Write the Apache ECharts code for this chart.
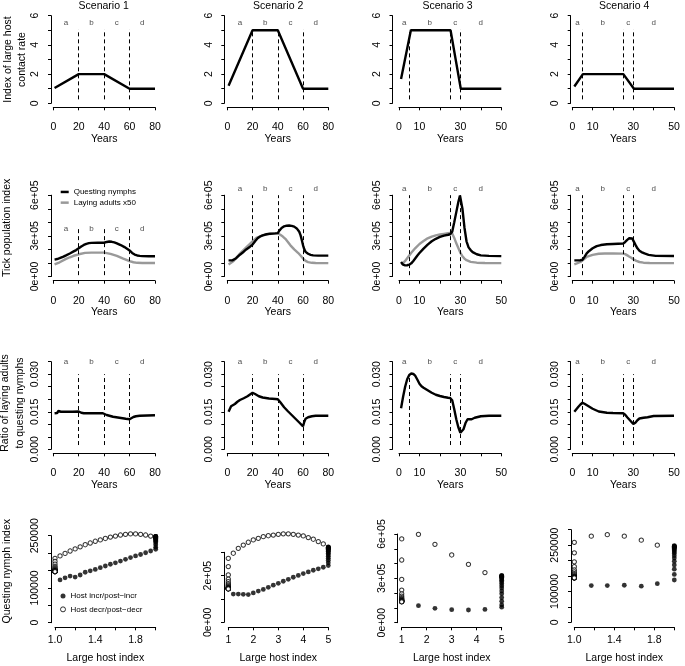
<!DOCTYPE html>
<html><head><meta charset="utf-8">
<script src="https://cdn.jsdelivr.net/npm/echarts@6/dist/echarts.min.js"></script>
<style>html,body{margin:0;padding:0;background:#fff}#c{width:685px;height:666px}</style>
</head><body><div id="c"></div>
<script>
// ================= DATA =================
const scenarioTitles = ['Scenario 1', 'Scenario 2', 'Scenario 3', 'Scenario 4'];
const phaseLetters = ['a', 'b', 'c', 'd'];
const phaseMidYears = [[10, 30, 50, 70], [10, 30, 50, 70], [2.5, 15, 27.5, 40], [2.5, 15, 27.5, 40]];
const phaseBreakYears = [[20, 40, 60], [20, 40, 60], [5, 25, 30], [5, 25, 30]];

// Row 1: index of large host contact rate
const hostYears1 = [1, 20, 40, 60, 80];      const hostRate1 = [1.05, 2, 2, 1, 1];
const hostYears2 = [1, 20, 40, 60, 80];      const hostRate2 = [1.2, 5, 5, 1, 1];
const hostYears3 = [1, 5.8, 25.2, 30.2, 50]; const hostRate3 = [1.67, 5, 5, 1, 1];
const hostYears4 = [1, 5.2, 25.1, 30.3, 50]; const hostRate4 = [1.15, 2, 2, 1, 1];

// Row 2: tick population index (questing nymphs, laying adults x50)
const nymphYears1 = [1,3,5,8,10,13,16,18,20,22,24,26,28,30,35,40,42,44,46,48,50,53,56,58,60,62,64,66,68,70,75,80];
const nymph1 = [1.25e5,1.29e5,1.35e5,1.47e5,1.56e5,1.70e5,1.85e5,1.95e5,2.08e5,2.22e5,2.33e5,2.41e5,2.46e5,2.48e5,2.49e5,2.49e5,2.55e5,2.58e5,2.56e5,2.52e5,2.45e5,2.32e5,2.17e5,2.05e5,1.92e5,1.74e5,1.62e5,1.55e5,1.52e5,1.50e5,1.49e5,1.49e5];
const adultYears1 = [1,5,10,13,16,20,25,30,40,45,50,55,60,63,66,70,80];
const adult1 = [0.90e5,1.05e5,1.30e5,1.42e5,1.53e5,1.64e5,1.74e5,1.76e5,1.76e5,1.67e5,1.52e5,1.32e5,1.13e5,1.05e5,1.01e5,1.00e5,1.00e5];

const nymphYears2 = [1,4,7,10,13,15,18,20,22,24,26,28,31,34,38,40,41,43,45,47,49,51,53,55,57,58,59,60,61,62,64,66,68,72,80];
const nymph2 = [1.19e5,1.19e5,1.35e5,1.61e5,1.83e5,2.00e5,2.20e5,2.35e5,2.60e5,2.82e5,2.95e5,3.04e5,3.12e5,3.16e5,3.18e5,3.20e5,3.35e5,3.58e5,3.70e5,3.75e5,3.76e5,3.74e5,3.68e5,3.55e5,3.30e5,3.05e5,2.70e5,2.30e5,2.00e5,1.82e5,1.68e5,1.60e5,1.56e5,1.54e5,1.54e5];
const adultYears2 = [1,5,10,15,20,23,28,33,38,40,42,44,46,48,50,53,56,58,60,62,64,67,70,80];
const adult2 = [0.89e5,1.14e5,1.69e5,2.15e5,2.60e5,2.85e5,3.04e5,3.14e5,3.18e5,3.18e5,3.08e5,2.95e5,2.78e5,2.55e5,2.30e5,2.00e5,1.75e5,1.55e5,1.32e5,1.15e5,1.06e5,1.01e5,1.00e5,0.99e5];

const nymphYears3 = [1,2,3,4,5,6,7,8,9,10,12,14,16,18,20,22,24,25,26,27,28,29,29.8,30.5,31,32,33,34,35,36,38,40,44,50];
const nymph3 = [1.07e5,0.87e5,0.82e5,0.83e5,0.87e5,0.97e5,1.15e5,1.35e5,1.55e5,1.73e5,2.06e5,2.35e5,2.60e5,2.78e5,2.92e5,3.02e5,3.08e5,3.12e5,3.30e5,4.00e5,4.75e5,5.50e5,5.98e5,5.85e5,5.00e5,3.60e5,2.60e5,2.15e5,1.95e5,1.80e5,1.64e5,1.56e5,1.52e5,1.50e5];
const adultYears3 = [1,2,3,4,5,6,8,10,12,14,16,18,20,22,24,25,26,27,28,29,30,31,32,33,35,38,42,50];
const adult3 = [0.94e5,0.99e5,1.15e5,1.35e5,1.55e5,1.75e5,2.10e5,2.40e5,2.62e5,2.82e5,2.95e5,3.04e5,3.10e5,3.15e5,3.20e5,3.22e5,3.18e5,2.85e5,2.45e5,2.10e5,1.75e5,1.50e5,1.32e5,1.20e5,1.08e5,1.02e5,1.00e5,0.99e5];

const nymphYears4 = [1,3,4,5,6,7,8,10,12,14,17,20,25,26,27,28,28.7,29.5,30,31,32,33,34,35.5,37.5,41,50];
const nymph4 = [1.19e5,1.19e5,1.20e5,1.24e5,1.45e5,1.69e5,1.85e5,2.08e5,2.24e5,2.32e5,2.38e5,2.40e5,2.43e5,2.55e5,2.70e5,2.82e5,2.86e5,2.80e5,2.65e5,2.35e5,2.08e5,1.90e5,1.80e5,1.70e5,1.60e5,1.52e5,1.51e5];
const adultYears4 = [1,4,7,10,13,16,20,25,26,27.5,29,30,31.5,33,35,38,50];
const adult4 = [0.89e5,1.07e5,1.44e5,1.60e5,1.68e5,1.70e5,1.71e5,1.69e5,1.65e5,1.52e5,1.38e5,1.27e5,1.15e5,1.07e5,1.02e5,1.00e5,0.99e5];

// Row 3: ratio of laying adults to questing nymphs
const ratioYears1 = [1,2,3,4,5,6,10,15,20,22,24,30,39,42,47,52,57,60,61,63,65,68,80];
const ratio1 = [0.0144,0.0140,0.0145,0.0153,0.0149,0.0150,0.0150,0.0150,0.0151,0.0146,0.0144,0.0144,0.0144,0.0137,0.0130,0.0126,0.0122,0.0120,0.0122,0.0129,0.0132,0.0134,0.0136];
const ratioYears2 = [1,2,3,4,6,8,10,13,16,18,20,22,25,28,33,38,40,42,45,48,51,54,57,60,61,62,64,67,70,80];
const ratio2 = [0.0150,0.0157,0.0172,0.0178,0.0181,0.0190,0.0197,0.0204,0.0212,0.0219,0.0226,0.0221,0.0212,0.0207,0.0203,0.0201,0.0200,0.0188,0.0168,0.0152,0.0137,0.0122,0.0107,0.0092,0.0110,0.0122,0.0128,0.0132,0.0134,0.0134];
const ratioYears3 = [1,2,3,4,5,6,7,8,9,10,11,12,14,16,18,20,22,24,25,26,27,28,29,30,30.5,31.5,32.5,33.5,35.5,37,40,44,50];
const ratio3 = [0.0164,0.0210,0.0250,0.0280,0.0297,0.0303,0.0301,0.0293,0.0278,0.0262,0.0252,0.0246,0.0236,0.0226,0.0218,0.0213,0.0209,0.0206,0.0205,0.0196,0.0160,0.0120,0.0088,0.0066,0.0063,0.0080,0.0105,0.0120,0.0120,0.0126,0.0132,0.0134,0.0134];
const ratioYears4 = [1,2,3,4,5,6,8,10,13,17,20,25,26,27,28,29,30,31,32,33,35,37,40,50];
const ratio4 = [0.0150,0.0160,0.0170,0.0179,0.0186,0.0182,0.0172,0.0162,0.0151,0.0146,0.0145,0.0144,0.0138,0.0128,0.0119,0.0110,0.0101,0.0106,0.0116,0.0123,0.0126,0.0128,0.0133,0.0134];

// Row 4: questing nymph index vs large host index
const incrHost1 = [1.05,1.10,1.15,1.20,1.25,1.30,1.35,1.40,1.45,1.50,1.55,1.60,1.65,1.70,1.75,1.80,1.85,1.90,1.95,2.00,2,2,2,2,2,2,2,2,2,2,2,2,2,2,2,2,2,2,2,2];
const incrNymph1 = [1.23e5,1.29e5,1.34e5,1.31e5,1.37e5,1.45e5,1.49e5,1.53e5,1.58e5,1.63e5,1.68e5,1.72e5,1.77e5,1.82e5,1.87e5,1.92e5,1.96e5,2.01e5,2.06e5,2.11e5,2.17e5,2.24e5,2.30e5,2.34e5,2.37e5,2.40e5,2.42e5,2.43e5,2.44e5,2.45e5,2.45e5,2.46e5,2.46e5,2.46e5,2.47e5,2.47e5,2.47e5,2.47e5,2.47e5,2.47e5];
const decrHost1 = [1.95,1.90,1.85,1.80,1.75,1.70,1.65,1.60,1.55,1.50,1.45,1.40,1.35,1.30,1.25,1.20,1.15,1.10,1.05,1.00,1,1,1,1,1,1,1,1,1,1,1,1,1,1,1,1,1,1,1,1];
const decrNymph1 = [2.49e5,2.52e5,2.54e5,2.55e5,2.55e5,2.54e5,2.52e5,2.49e5,2.46e5,2.42e5,2.38e5,2.34e5,2.29e5,2.24e5,2.18e5,2.12e5,2.06e5,1.99e5,1.92e5,1.85e5,1.76e5,1.68e5,1.62e5,1.58e5,1.55e5,1.53e5,1.51e5,1.50e5,1.49e5,1.49e5,1.48e5,1.48e5,1.48e5,1.48e5,1.47e5,1.47e5,1.47e5,1.47e5,1.47e5,1.47e5];

const incrHost2 = [1.2,1.4,1.6,1.8,2.0,2.2,2.4,2.6,2.8,3.0,3.2,3.4,3.6,3.8,4.0,4.2,4.4,4.6,4.8,5.0,5,5,5,5,5,5,5,5,5,5,5,5,5,5,5,5,5,5,5,5];
const incrNymph2 = [1.21e5,1.21e5,1.20e5,1.19e5,1.26e5,1.34e5,1.41e5,1.50e5,1.59e5,1.67e5,1.76e5,1.84e5,1.93e5,2.01e5,2.09e5,2.16e5,2.23e5,2.29e5,2.36e5,2.43e5,2.55e5,2.66e5,2.75e5,2.83e5,2.90e5,2.96e5,3.01e5,3.05e5,3.08e5,3.11e5,3.13e5,3.15e5,3.16e5,3.17e5,3.18e5,3.19e5,3.20e5,3.21e5,3.22e5,3.23e5];
const decrHost2 = [4.8,4.6,4.4,4.2,4.0,3.8,3.6,3.4,3.2,3.0,2.8,2.6,2.4,2.2,2.0,1.8,1.6,1.4,1.2,1.0,1,1,1,1,1,1,1,1,1,1,1,1,1,1,1,1,1,1,1,1];
const decrNymph2 = [3.36e5,3.46e5,3.56e5,3.63e5,3.70e5,3.74e5,3.77e5,3.79e5,3.79e5,3.77e5,3.74e5,3.71e5,3.67e5,3.60e5,3.53e5,3.43e5,3.31e5,3.17e5,2.96e5,2.74e5,2.39e5,2.03e5,1.85e5,1.74e5,1.66e5,1.60e5,1.56e5,1.53e5,1.50e5,1.48e5,1.47e5,1.46e5,1.45e5,1.45e5,1.44e5,1.44e5,1.44e5,1.43e5,1.43e5,1.43e5];

const incrHost3 = [1.67,2.33,3.0,3.67,4.33,5,5,5,5,5,5,5,5,5,5,5,5,5,5,5,5,5,5,5];
const incrNymph3 = [1.15e5,0.97e5,0.88e5,0.86e5,0.90e5,1.05e5,1.20e5,1.45e5,1.70e5,1.95e5,2.15e5,2.35e5,2.50e5,2.65e5,2.77e5,2.87e5,2.95e5,3.02e5,3.07e5,3.11e5,3.14e5,3.16e5,3.18e5,3.19e5];
const decrHost3 = [4.33,3.67,3.0,2.33,1.67,1,1,1,1,1,1,1,1,1,1,1,1,1,1,1,1,1,1,1,1];
const decrNymph3 = [3.39e5,3.95e5,4.58e5,5.30e5,5.98e5,5.67e5,4.24e5,2.93e5,2.21e5,1.95e5,1.80e5,1.70e5,1.63e5,1.58e5,1.54e5,1.51e5,1.49e5,1.47e5,1.46e5,1.45e5,1.44e5,1.43e5,1.42e5,1.42e5,1.41e5];

const incrHost4 = [1.17,1.33,1.5,1.67,1.83,2,2,2,2,2,2,2,2,2,2,2,2,2,2,2,2,2,2,2];
const incrNymph4 = [1.19e5,1.19e5,1.20e5,1.17e5,1.25e5,1.37e5,1.55e5,1.72e5,1.86e5,1.98e5,2.08e5,2.16e5,2.23e5,2.28e5,2.32e5,2.36e5,2.39e5,2.41e5,2.43e5,2.44e5,2.45e5,2.46e5,2.47e5,2.48e5];
const decrHost4 = [1.83,1.67,1.5,1.33,1.17,1,1,1,1,1,1,1,1,1,1,1,1,1,1,1,1,1,1,1,1];
const decrNymph4 = [2.50e5,2.66e5,2.79e5,2.84e5,2.79e5,2.59e5,2.25e5,1.96e5,1.80e5,1.70e5,1.63e5,1.58e5,1.54e5,1.51e5,1.49e5,1.48e5,1.47e5,1.46e5,1.45e5,1.45e5,1.44e5,1.44e5,1.44e5,1.44e5,1.44e5];

// Tick labels
const yearTickVals80 = [0, 20, 40, 60, 80];       const yearTickLabs80 = ['0', '20', '40', '60', '80'];
const yearTickVals50 = [0, 10, 30, 50];           const yearTickLabs50 = ['0', '10', '30', '50'];
const rateTickVals = [0, 2, 4, 6];                const rateTickLabs = ['0', '2', '4', '6'];
const popTickVals = [0, 3e5, 6e5];                const popTickLabs = ['0e+00', '3e+05', '6e+05'];
const ratioTickVals = [0, 0.015, 0.030];          const ratioTickLabs = ['0.000', '0.015', '0.030'];
const nymphTickVals1 = [0, 100000, 250000];       const nymphTickLabs1 = ['0', '100000', '250000'];
const nymphTickVals2 = [0, 2e5];                  const nymphTickLabs2 = ['0e+00', '2e+05'];
const nymphTickVals3 = [0, 3e5, 6e5];             const nymphTickLabs3 = ['0e+00', '3e+05', '6e+05'];
const nymphTickVals4 = [0, 100000, 250000];       const nymphTickLabs4 = ['0', '100000', '250000'];
const hostTickValsA = [1.0, 1.4, 1.8];            const hostTickLabsA = ['1.0', '1.4', '1.8'];
const hostTickValsB = [1, 2, 3, 4, 5];            const hostTickLabsB = ['1', '2', '3', '4', '5'];

// ================= LAYOUT / STYLE =================
const FONT = '"Liberation Sans", Arial, Helvetica, sans-serif';
const FS = 10.5;
const colsTop = [ // rows 1-3 horizontal placement
  {x0: 53.3, x1: 155, ax: 51, maxYear: 80, step: 20, tv: yearTickVals80, tl: yearTickLabs80},
  {x0: 227.3, x1: 328.3, ax: 224.3, maxYear: 80, step: 20, tv: yearTickVals80, tl: yearTickLabs80},
  {x0: 399, x1: 501.3, ax: 392.5, maxYear: 50, step: 10, tv: yearTickVals50, tl: yearTickLabs50},
  {x0: 572.3, x1: 674, ax: 570.7, maxYear: 50, step: 10, tv: yearTickVals50, tl: yearTickLabs50}
];
const rowsTop = [
  {y0: 103.3, y1: 15.7, ax: 107.3, max: 6, step: 1, tv: rateTickVals, tl: rateTickLabs,
   letterY: [5.5, 5.5, 5.5, 5.5], dash: [0.27, 5.07], dashTop: [5.07, 5.07, 5.07, 5.07],
   name: 'Index of large host\ncontact rate', nameGap: 21.5, namePad: 0},
  {y0: 276.5, y1: 195.2, ax: 280.7, max: 6e5, step: 1e5, tv: popTickVals, tl: popTickLabs,
   letterY: [3.5e5, 6.5e5, 6.5e5, 6.5e5], dash: [0.1e5, 6e5], dashTop: [3.6e5, 6e5, 6e5, 6e5],
   name: 'Tick population index', nameGap: 36.5, namePad: 16},
  {y0: 449.3, y1: 361.7, ax: 453.3, max: 0.035, step: 0.005, tv: ratioTickVals, tl: ratioTickLabs,
   letterY: [0.035, 0.035, 0.035, 0.035], dash: [0.0017, 0.030], dashTop: [0.030, 0.030, 0.030, 0.030],
   name: 'Ratio of laying adults\nto questing nymphs', nameGap: 24, namePad: 5}
];
const row4 = [
  {x0: 55, x1: 155.7, yax: 51, y0: 622.7, y1: 535.7, xax: 627.3, xmin: 1, xmax: 2, xstep: 0.2, xtv: hostTickValsA, xtl: hostTickLabsA,
   ymax: 250000, ystep: 50000, ytv: nymphTickVals1, ytl: nymphTickLabs1},
  {x0: 228.3, x1: 328.3, yax: 224, y0: 622.3, y1: 552.3, xax: 627.3, xmin: 1, xmax: 5, xstep: 1, xtv: hostTickValsB, xtl: hostTickLabsB,
   ymax: 3e5, ystep: 1e5, ytv: nymphTickVals2, ytl: nymphTickLabs2},
  {x0: 401.7, x1: 501.7, yax: 397.3, y0: 622.7, y1: 534, xax: 627.3, xmin: 1, xmax: 5, xstep: 1, xtv: hostTickValsB, xtl: hostTickLabsB,
   ymax: 6e5, ystep: 1e5, ytv: nymphTickVals3, ytl: nymphTickLabs3},
  {x0: 574.3, x1: 674.3, yax: 571, y0: 622.3, y1: 529.7, xax: 627.3, xmin: 1, xmax: 2, xstep: 0.2, xtv: hostTickValsA, xtl: hostTickLabsA,
   ymax: 3e5, ystep: 5e4, ytv: nymphTickVals4, ytl: nymphTickLabs4}
];
const titleCenters = [103.7, 278.2, 447.5, 624.2];

const hostYears = [hostYears1, hostYears2, hostYears3, hostYears4];
const hostRates = [hostRate1, hostRate2, hostRate3, hostRate4];
const nymphYears = [nymphYears1, nymphYears2, nymphYears3, nymphYears4];
const nymphs = [nymph1, nymph2, nymph3, nymph4];
const adultYears = [adultYears1, adultYears2, adultYears3, adultYears4];
const adults = [adult1, adult2, adult3, adult4];
const ratioYears = [ratioYears1, ratioYears2, ratioYears3, ratioYears4];
const ratios = [ratio1, ratio2, ratio3, ratio4];
const incrHosts = [incrHost1, incrHost2, incrHost3, incrHost4];
const incrNymphs = [incrNymph1, incrNymph2, incrNymph3, incrNymph4];
const decrHosts = [decrHost1, decrHost2, decrHost3, decrHost4];
const decrNymphs = [decrNymph1, decrNymph2, decrNymph3, decrNymph4];

const zip = (a, b) => a.map((v, i) => [v, b[i]]);
const lookup = (vals, labs) => (v) => {
  for (let i = 0; i < vals.length; i++) {
    if (Math.abs(vals[i] - v) <= 1e-6 * Math.max(1, Math.abs(vals[i]))) return labs[i];
  }
  return '';
};
const lineStyleAxis = {color: '#000', width: 1};

function xAxisCfg(gi, min, max, step, tv, tl, name, offset, margin, nameGap) {
  return {
    gridIndex: gi, type: 'value', min: min, max: max, interval: step, position: 'bottom', offset: offset,
    axisLine: {show: true, onZero: false, lineStyle: lineStyleAxis},
    axisTick: {show: true, length: 3, inside: false, lineStyle: lineStyleAxis},
    splitLine: {show: false},
    axisLabel: {show: true, margin: margin, fontSize: FS, color: '#000', fontFamily: FONT, formatter: lookup(tv, tl)},
    name: name, nameLocation: 'middle', nameGap: nameGap, nameMoveOverlap: false,
    nameTextStyle: {fontSize: FS, color: '#000', fontFamily: FONT}
  };
}
function yAxisCfg(gi, min, max, step, tv, tl, offset, name, nameGap, namePad, lh) {
  return {
    gridIndex: gi, type: 'value', min: min, max: max, interval: step, position: 'left', offset: offset,
    axisLine: {show: true, onZero: false, lineStyle: lineStyleAxis},
    axisTick: {show: true, length: 3, inside: false, lineStyle: lineStyleAxis},
    splitLine: {show: false},
    axisLabel: {show: true, rotate: 90, margin: 10, fontSize: FS, color: '#000', fontFamily: FONT, formatter: lookup(tv, tl)},
    name: name || '', nameLocation: 'middle', nameGap: nameGap || 0, nameRotate: 90, nameMoveOverlap: false,
    nameTextStyle: {fontSize: FS, color: '#000', fontFamily: FONT, lineHeight: lh || 14.5, padding: [0, 0, 0, namePad || 0]}
  };
}

const option = {
  animation: false,
  backgroundColor: '#fff',
  textStyle: {fontFamily: FONT},
  title: [], grid: [], xAxis: [], yAxis: [], series: [],
  legend: [
    {show: true, orient: 'vertical', left: 60.7, top: 186.6, padding: 0, itemGap: 0, itemWidth: 8, itemHeight: 2.5,
     icon: 'rect', selectedMode: false, data: ['Questing nymphs', 'Laying adults x50'],
     textStyle: {fontSize: 8, lineHeight: 10.7, color: '#000', fontFamily: FONT}},
    {show: true, orient: 'vertical', left: 60, top: 589.4, padding: 0, itemGap: 0, itemWidth: 5, itemHeight: 5,
     icon: 'circle', selectedMode: false,
     data: [{name: 'Host incr/post\u2212incr', itemStyle: {color: '#000', borderWidth: 0}},
            {name: 'Host decr/post\u2212decr', itemStyle: {color: '#fff', borderColor: '#000', borderWidth: 1}}],
     textStyle: {fontSize: 8, lineHeight: 13.3, color: '#000', fontFamily: FONT}}
  ]
};

for (let c = 0; c < 4; c++) {
  option.title.push({text: scenarioTitles[c], left: titleCenters[c], top: 0.5, textAlign: 'center', padding: 0,
    textStyle: {fontSize: FS, fontWeight: 'normal', color: '#000', fontFamily: FONT}});
}

// rows 1-3
for (let r = 0; r < 3; r++) {
  for (let c = 0; c < 4; c++) {
    const gi = r * 4 + c, C = colsTop[c], R = rowsTop[r];
    option.grid.push({left: C.x0, top: R.y1, width: C.x1 - C.x0, height: R.y0 - R.y1, containLabel: false, outerBoundsMode: 'none'});
    option.xAxis.push(xAxisCfg(gi, 0, C.maxYear, C.step, C.tv, C.tl, 'Years', R.ax - R.y0, 14.5, 26));
    option.yAxis.push(yAxisCfg(gi, 0, R.max, R.step, R.tv, R.tl, C.x0 - C.ax,
      c === 0 ? R.name : '', R.nameGap, R.namePad));
    // phase letters + dashed phase boundaries
    option.series.push({
      type: 'scatter', xAxisIndex: gi, yAxisIndex: gi, silent: true, clip: false, symbolSize: 0.01, z: 5,
      itemStyle: {color: 'rgba(0,0,0,0)'},
      label: {show: true, position: 'inside', formatter: (p) => p.name, fontSize: 8, color: '#222', fontFamily: FONT},
      data: phaseMidYears[c].map((x, i) => ({name: phaseLetters[i], value: [x, R.letterY[c]]})),
      markLine: {silent: true, symbol: ['none', 'none'], animation: false, label: {show: false},
        lineStyle: {type: [4, 3], color: '#000', width: 1},
        emphasis: {disabled: true},
        data: phaseBreakYears[c].map(x => [{coord: [x, R.dash[0]]}, {coord: [x, R.dashTop[c]]}])}
    });
    if (r === 0) {
      option.series.push({type: 'line', xAxisIndex: gi, yAxisIndex: gi, symbol: 'none', silent: true,
        lineStyle: {color: '#000', width: 2.4}, data: zip(hostYears[c], hostRates[c]), z: 3});
    } else if (r === 1) {
      option.series.push({name: 'Laying adults x50', type: 'line', xAxisIndex: gi, yAxisIndex: gi, symbol: 'none', silent: true,
        itemStyle: {color: '#999999'}, lineStyle: {color: '#999999', width: 2.4}, data: zip(adultYears[c], adults[c]), z: 3});
      option.series.push({name: 'Questing nymphs', type: 'line', xAxisIndex: gi, yAxisIndex: gi, symbol: 'none', silent: true, clip: false,
        itemStyle: {color: '#000'}, lineStyle: {color: '#000', width: 2.4}, data: zip(nymphYears[c], nymphs[c]), z: 4});
    } else {
      option.series.push({type: 'line', xAxisIndex: gi, yAxisIndex: gi, symbol: 'none', silent: true,
        lineStyle: {color: '#000', width: 2.4}, data: zip(ratioYears[c], ratios[c]), z: 3});
    }
  }
}

// row 4
for (let c = 0; c < 4; c++) {
  const gi = 12 + c, P = row4[c];
  option.grid.push({left: P.x0, top: P.y1, width: P.x1 - P.x0, height: P.y0 - P.y1, containLabel: false, outerBoundsMode: 'none'});
  option.xAxis.push(xAxisCfg(gi, P.xmin, P.xmax, P.xstep, P.xtv, P.xtl, 'Large host index', P.xax - P.y0, 7.5, 25.5));
  option.yAxis.push(yAxisCfg(gi, 0, P.ymax, P.ystep, P.ytv, P.ytl, P.x0 - P.yax,
    c === 0 ? 'Questing nymph index' : '', 37, 16));
  option.series.push({name: 'Host incr/post\u2212incr', type: 'scatter', xAxisIndex: gi, yAxisIndex: gi, silent: true, clip: false,
    symbol: 'circle', symbolSize: 4.8, itemStyle: {color: '#000'}, data: zip(incrHosts[c], incrNymphs[c]), z: 3});
  option.series.push({name: 'Host decr/post\u2212decr', type: 'scatter', xAxisIndex: gi, yAxisIndex: gi, silent: true, clip: false,
    symbol: 'circle', symbolSize: 4.3, itemStyle: {color: '#fff', borderColor: '#000', borderWidth: 1}, data: zip(decrHosts[c], decrNymphs[c]), z: 4});
}

const chart = echarts.init(document.getElementById('c'), null, {renderer: 'canvas', width: 685, height: 666});
chart.setOption(option);
</script></body></html>
